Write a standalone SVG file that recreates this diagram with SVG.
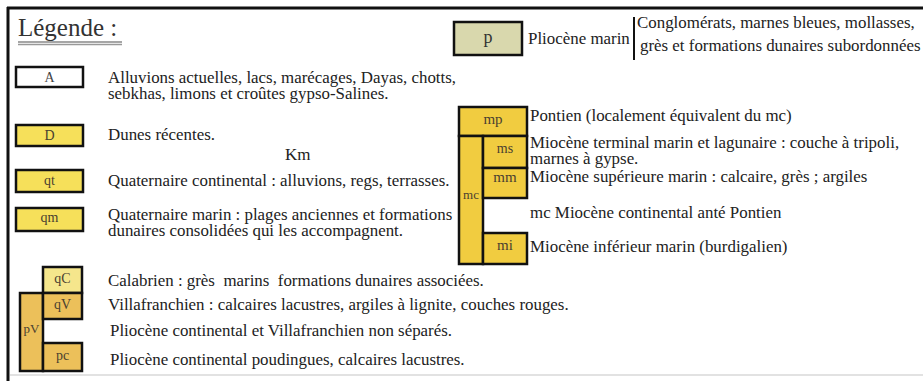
<svg xmlns="http://www.w3.org/2000/svg" width="923" height="381" viewBox="0 0 923 381" font-family="'Liberation Serif','Times New Roman',serif">
<style>
text{font-family:"Liberation Serif","Times New Roman",serif;fill:#222;}
.t{font-size:16.9px;white-space:pre;}
.lab{font-size:14px;fill:#4a4030;text-anchor:middle;}
.bx{stroke:#111;stroke-width:2.5;}
.yel{fill:#f6e05a;}
.lyel{fill:#f5e68c;}
.gold{fill:#ecc05a;}
.myel{fill:#f1cc40;}
.pm{fill:#d9d8ad;}
</style>
<rect x="0" y="0" width="923" height="381" fill="#fff"/>
<g id="frame">
<line x1="7" y1="8" x2="923" y2="8" stroke="#111" stroke-width="3"/>
<line x1="8" y1="7" x2="8" y2="381" stroke="#111" stroke-width="3"/>
<line x1="10" y1="375" x2="923" y2="375" stroke="#e2e2e2" stroke-width="2"/>
</g>
<g id="title">
<text x="18" y="36" style="font-size:25px;fill:#333">Légende :</text>
<line x1="18" y1="42" x2="122" y2="42" stroke="#888" stroke-width="1.5"/>
<line x1="18" y1="44.5" x2="122" y2="44.5" stroke="#999" stroke-width="1.5"/>
</g>
<g id="node-A">
<rect class="bx" x="16" y="67" width="67" height="20" fill="#fff"/>
<text class="lab" x="49.5" y="82" style="fill:#444">A</text>
<text class="t" x="108" y="83">Alluvions actuelles, lacs, marécages, Dayas, chotts,</text>
<text class="t" x="108" y="99">sebkhas, limons et croûtes gypso-Salines.</text>
</g>
<g id="node-D">
<rect class="bx yel" x="16" y="125" width="67" height="21"/>
<text class="lab" x="49.5" y="140">D</text>
<text class="t" x="108" y="140">Dunes récentes.</text>
</g>
<g id="km">
<text x="285" y="160" style="font-size:17px">Km</text>
</g>
<g id="node-qt">
<rect class="bx yel" x="16" y="170" width="67" height="22"/>
<text class="lab" x="49.5" y="185">qt</text>
<text class="t" x="108" y="186">Quaternaire continental : alluvions, regs, terrasses.</text>
</g>
<g id="node-qm">
<rect class="bx yel" x="16" y="208" width="67" height="23"/>
<text class="lab" x="49.5" y="222">qm</text>
<text class="t" x="108" y="220">Quaternaire marin : plages anciennes et formations</text>
<text class="t" x="108" y="236">dunaires consolidées qui les accompagnent.</text>
</g>
<g id="node-pV">
<rect class="bx gold" x="20" y="293" width="23" height="78"/>
<text class="lab" x="31.5" y="333" style="font-size:13px">pV</text>
</g>
<g id="node-qC">
<rect class="bx lyel" x="43" y="267" width="39" height="26"/>
<text class="lab" x="62.5" y="283">qC</text>
<text class="t" x="108" y="286">Calabrien : grès  marins  formations dunaires associées.</text>
</g>
<g id="node-qV">
<rect class="bx gold" x="43" y="293" width="39" height="26"/>
<text class="lab" x="62.5" y="309">qV</text>
<text class="t" x="108" y="310">Villafranchien : calcaires lacustres, argiles à lignite, couches rouges.</text>
</g>
<g id="node-pV-text">
<text class="t" x="110" y="336">Pliocène continental et Villafranchien non séparés.</text>
</g>
<g id="node-pc">
<rect class="bx gold" x="43" y="343" width="39" height="28"/>
<text class="lab" x="62.5" y="360">pc</text>
<text class="t" x="110" y="365">Pliocène continental poudingues, calcaires lacustres.</text>
</g>
<g id="node-p">
<rect class="bx pm" x="454" y="22" width="68" height="33"/>
<text class="lab" x="488" y="43" style="font-size:18px;fill:#333">p</text>
<text class="t" x="528" y="44">Pliocène marin</text>
<line x1="634" y1="17" x2="634" y2="60" stroke="#111" stroke-width="2"/>
<text class="t" x="637" y="28">Conglomérats, marnes bleues, mollasses,</text>
<text class="t" x="640" y="51">grès et formations dunaires subordonnées</text>
</g>
<g id="node-mp">
<rect class="bx myel" x="459" y="107" width="68" height="29"/>
<text class="lab" x="493" y="124" style="font-size:15px">mp</text>
<text class="t" x="530" y="121">Pontien (localement équivalent du mc)</text>
</g>
<g id="node-mc">
<rect class="bx myel" x="459" y="136" width="24" height="128"/>
<text class="lab" x="471" y="199" style="font-size:13px">mc</text>
<text class="t" x="530" y="218">mc Miocène continental anté Pontien</text>
</g>
<g id="node-ms">
<rect class="bx myel" x="483" y="136" width="44" height="32"/>
<text class="lab" x="505" y="153">ms</text>
<text class="t" x="530" y="148">Miocène terminal marin et lagunaire : couche à tripoli,</text>
<text class="t" x="530" y="164">marnes à gypse.</text>
</g>
<g id="node-mm">
<rect class="bx myel" x="483" y="168" width="44" height="30"/>
<text class="lab" x="505" y="182" style="font-size:15px">mm</text>
<text class="t" x="530" y="182">Miocène supérieure marin : calcaire, grès ; argiles</text>
</g>
<g id="node-mi">
<rect class="bx myel" x="483" y="233" width="44" height="31"/>
<text class="lab" x="505" y="250" style="font-size:15px">mi</text>
<text class="t" x="530" y="252">Miocène inférieur marin (burdigalien)</text>
</g>
<g id="connectors"></g>
</svg>
